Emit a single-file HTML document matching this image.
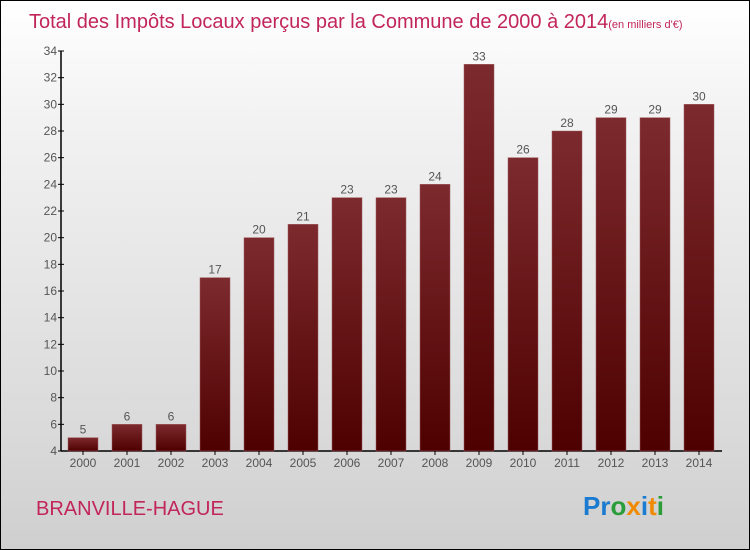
<!DOCTYPE html>
<html><head><meta charset="utf-8"><style>
body{margin:0;}
#c{width:748px;height:548px;border:1px solid #000;position:relative;overflow:hidden;background:linear-gradient(#fff,#f3f3f3 20%,#d9d9d9 80%,#cfcfcf);font-family:"Liberation Sans",sans-serif;}
</style></head><body>
<div id="c">
<svg width="748" height="548" xmlns="http://www.w3.org/2000/svg">
<defs><linearGradient id="bg" x1="0" y1="0" x2="0" y2="1"><stop offset="0" stop-color="#7d2a2e"/><stop offset="1" stop-color="#4e0000"/></linearGradient></defs>
<text x="28" y="27" font-size="20" fill="#c2255c">Total des Impôts Locaux perçus par la Commune de 2000 à 2014<tspan font-size="11">(en milliers d'€)</tspan></text>
<g id="plot"></g>
<text x="35" y="514" font-size="20" fill="#c2255c">BRANVILLE-HAGUE</text>
<text x="582" y="514" font-size="26" font-weight="bold"><tspan fill="#1a7bd0">Pr</tspan><tspan fill="#2a9d3a">o</tspan><tspan fill="#f08a00">x</tspan><tspan fill="#1a7bd0">i</tspan><tspan fill="#f08a00">t</tspan><tspan fill="#2a9d3a">i</tspan></text>
</svg></div>
<script>
const categories=["2000","2001","2002","2003","2004","2005","2006","2007","2008","2009","2010","2011","2012","2013","2014"];
const values=[5,6,6,17,20,21,23,23,24,33,26,28,29,29,30];
const yTicks=[4,6,8,10,12,14,16,18,20,22,24,26,28,30,32,34];
const NS="http://www.w3.org/2000/svg";
const g=document.getElementById('plot');
const y=v=>450-(v-4)*400/30;
const x=i=>67+i*44;
function mk(t,a){const e=document.createElementNS(NS,t);for(const k in a)e.setAttribute(k,a[k]);g.appendChild(e);return e;}
let e=mk('line',{x1:60,y1:450,x2:721,y2:450,stroke:'#000','stroke-width':1.5});


e=mk('line',{x1:60,y1:50,x2:60,y2:450,stroke:'#000','stroke-width':1.5});


yTicks.forEach(t=>{
 const l=mk('line',{x1:57,y1:y(t),x2:63,y2:y(t),stroke:'#000'});
 
 
 const tx=mk('text',{x:56,y:y(t)+4,'font-size':12,fill:'#555','text-anchor':'end'});
 tx.textContent=t;
 
 
});
categories.forEach((c,i)=>{
 const b=mk('rect',{x:x(i),y:y(values[i]),width:30,height:450-y(values[i]),fill:'url(#bg)',stroke:'#a05a5e','stroke-width':0.5});
 
 
 const v=mk('text',{x:x(i)+15,y:y(values[i])-4,'font-size':12,fill:'#555','text-anchor':'middle'});
 v.textContent=values[i];
 
 
 const l=mk('text',{x:x(i)+15,y:466,'font-size':12,fill:'#555','text-anchor':'middle'});
 l.textContent=c;
 
 
 const tk=mk('line',{x1:x(i)+15,y1:450,x2:x(i)+15,y2:454,stroke:'#000'});
 
 
});
</script>
</body></html>
